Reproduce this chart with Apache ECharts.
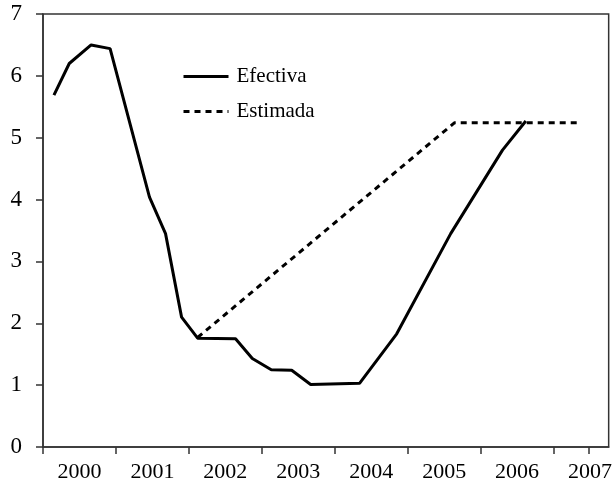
<!DOCTYPE html>
<html>
<head>
<meta charset="utf-8">
<script src="https://cdn.jsdelivr.net/npm/echarts@6/dist/echarts.min.js"></script>
<style>
  html, body { margin: 0; padding: 0; background: #fff; }
  #chart { width: 615px; height: 483px; }
</style>
</head>
<body>
<div id="chart"></div>
<script>
// tasa efectiva (años fraccionarios, %)
var efTime = [2000.15, 2000.36, 2000.66, 2000.92, 2001.46, 2001.68, 2001.90, 2002.12, 2002.64, 2002.87,
              2003.13, 2003.41, 2003.67, 2004.34, 2004.85, 2005.59, 2006.30, 2006.62];
var efValue = [5.69, 6.20, 6.50, 6.44, 4.04, 3.45, 2.10, 1.76, 1.75, 1.43,
               1.25, 1.24, 1.01, 1.03, 1.83, 3.45, 4.80, 5.27];
// tasa estimada
var esTime = [2002.12, 2005.64, 2007.35];
var esValue = [1.77, 5.24, 5.24];

var years = ['2000', '2001', '2002', '2003', '2004', '2005', '2006', '2007'];
var yTicks = [0, 1, 2, 3, 4, 5, 6, 7];

function zip(a, b) {
    return a.map(function (v, i) { return [v, b[i]]; });
}

var tickVals = years.map(function (y) { return +y; });
tickVals.push(2007.48);
var labelVals = years.map(function (y) { return +y + 0.5; });

var font = 'Liberation Serif';
var chart = echarts.init(document.getElementById('chart'));

var option = {
    backgroundColor: '#fff',
    animation: false,
    grid: {
        left: 43, right: 3, top: 14, bottom: 36,
        show: true, borderColor: '#333', borderWidth: 1.5
    },
    legend: {
        orient: 'vertical',
        left: 182, top: 66, padding: 0,
        itemWidth: 45, itemHeight: 14, itemGap: 14,
        itemStyle: { opacity: 0 },
        lineStyle: { width: 3 },
        textStyle: { fontFamily: font, fontSize: 21, lineHeight: 14, color: '#000', padding: [0, 0, 0, 3] },
        data: ['Efectiva', 'Estimada']
    },
    xAxis: {
        type: 'value',
        min: 2000, max: 2007.756,
        splitLine: { show: false },
        axisLine: { lineStyle: { color: '#333', width: 1.5 } },
        axisTick: { length: 7, lineStyle: { color: '#333', width: 1.5 }, customValues: tickVals },
        axisLabel: {
            customValues: labelVals,
            margin: 14,
            color: '#000', fontFamily: font, fontSize: 22,
            formatter: function (v) { return String(Math.floor(v)); }
        }
    },
    yAxis: {
        type: 'value',
        min: yTicks[0], max: yTicks[yTicks.length - 1], interval: 1,
        splitLine: { show: false },
        axisLine: { show: true, lineStyle: { color: '#333', width: 1.5 } },
        axisTick: { show: true, length: 7, lineStyle: { color: '#333', width: 1.5 } },
        axisLabel: { margin: 21, color: '#000', fontFamily: font, fontSize: 23 }
    },
    series: [
        {
            name: 'Efectiva',
            type: 'line',
            symbol: 'none',
            data: zip(efTime, efValue),
            lineStyle: { color: '#000', width: 3 },
            itemStyle: { color: '#000' }
        },
        {
            name: 'Estimada',
            type: 'line',
            symbol: 'none',
            data: zip(esTime, esValue),
            lineStyle: { color: '#000', width: 3, type: [6, 5] },
            itemStyle: { color: '#000' }
        }
    ]
};

chart.setOption(option);
</script>
</body>
</html>
